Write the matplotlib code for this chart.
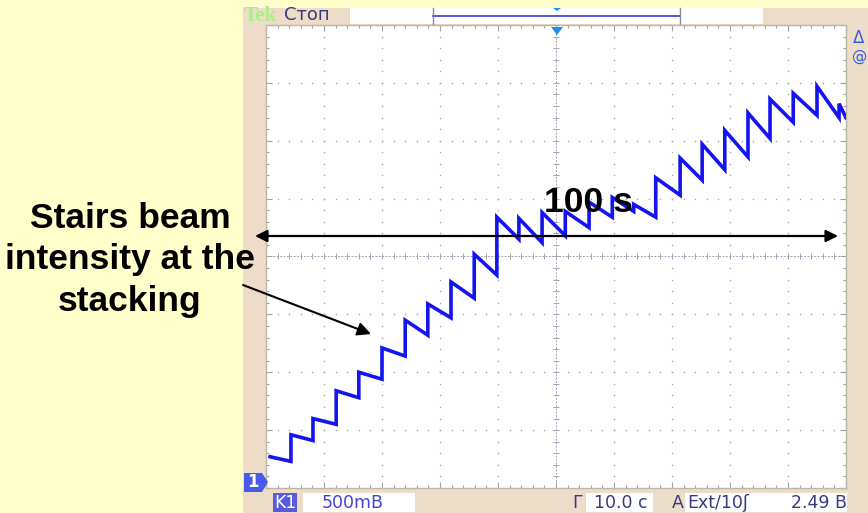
import matplotlib
matplotlib.use("Agg")
import matplotlib.pyplot as plt
from matplotlib.patches import Rectangle, Polygon, FancyArrowPatch
from matplotlib.lines import Line2D
import numpy as np

# ---- scope trace: injection instants (s) and beam signal (V) ----
inject_t = [0.7, 4.3, 8.1, 12.1, 16.0, 20.0, 24.0, 27.9, 31.9, 35.9,
            39.8, 43.6, 47.6, 51.6, 55.7, 59.7, 63.4, 67.2, 71.4, 75.2,
            79.1, 83.1, 86.9, 90.9, 95.0, 98.8]
end_t = 100.0
# signal right after each injection
level_top = [0.21, 0.40, 0.54, 0.78, 0.94, 1.15, 1.39, 1.53, 1.72, 1.96,
             2.28, 2.27, 2.32, 2.33, 2.41, 2.45, 2.39, 2.62, 2.79, 2.91,
             3.03, 3.18, 3.30, 3.35, 3.41, 3.26]
# signal just before the following injection
level_bottom = [0.17, 0.35, 0.49, 0.72, 0.88, 1.08, 1.26, 1.41, 1.58, 1.78,
                2.09, 2.06, 2.12, 2.19, 2.28, 2.33, 2.28, 2.47, 2.60, 2.69,
                2.80, 2.96, 3.10, 3.16, 3.14, 3.14]

# ---- scope settings shown on the readout ----
volts_per_div = 0.5
sec_per_div = 10.0
ground_div = -3.88          # channel-1 ground marker, divisions from centre
ch_label = "K1"
ch_scale = "500mB"
time_scale = "10.0 c"
trig_src = "Ext/10"
trig_level = "2.49 B"
run_state = "Стоп"

W, H = 868, 513
fig = plt.figure(figsize=(W / 100, H / 100), dpi=100, facecolor="#FFFFCC")


def fx(px):
    return px / W


def fy(py):
    return 1 - py / H


def fig_rect(x0, y0, x1, y1, **kw):
    r = Rectangle((fx(x0), fy(y1)), fx(x1) - fx(x0), fy(y0) - fy(y1),
                  transform=fig.transFigure, **kw)
    fig.add_artist(r)
    return r


beige = "#ECDCC8"
navy = "#3A3A80"

# scope window frame
fig_rect(243, 8, 868, 513, facecolor=beige, edgecolor="none", zorder=-5)
# header bar
fig_rect(350, 8, 763, 24, facecolor="white", edgecolor="none", zorder=-4)
fig.add_artist(Line2D([fx(433), fx(680)], [fy(15.5), fy(15.5)],
                      color="#5555DD", lw=1.4, zorder=-3))
for xb in (433, 680):
    fig.add_artist(Line2D([fx(xb), fx(xb)], [fy(8), fy(24)],
                          color="#8888A0", lw=1.0, zorder=-3))
fig.add_artist(Polygon([(fx(553), fy(8)), (fx(561), fy(8)), (fx(557), fy(11))],
                       closed=True, transform=fig.transFigure,
                       facecolor="#2090F0", edgecolor="none", zorder=-3))
fig.text(fx(244), fy(16), "Tek", color="#A8F080", fontsize=15,
         family="Liberation Serif", weight="bold", ha="left", va="center")
fig.text(fx(284), fy(15.5), run_state, color=navy, fontsize=13,
         family="DejaVu Sans", ha="left", va="center")

# right-hand readout glyphs (cut by the window edge)
fig.text(fx(853), fy(38), "Δ", color="#3060E0", fontsize=12, ha="left", va="center")
fig.text(fx(852), fy(56), "@", color="#3060E0", fontsize=11, ha="left", va="center")

# ---- graticule ----
ax = fig.add_axes([fx(266), fy(488), fx(846) - fx(266), fy(25) - fy(488)])
ax.set_facecolor("white")
y_lo = -(4 + ground_div) * volts_per_div
y_hi = (4 - ground_div) * volts_per_div
x_lo, x_hi = 0.0, 10 * sec_per_div
ax.set_xlim(x_lo, x_hi)
ax.set_ylim(y_lo, y_hi)
for s in ax.spines.values():
    s.set_color("#BDB5A5")
    s.set_linewidth(1.0)

major_x = np.arange(x_lo, x_hi + 1e-9, sec_per_div)
minor_x = np.arange(x_lo, x_hi + 1e-9, sec_per_div / 5)
major_y = y_lo + np.arange(0, 9) * volts_per_div
minor_y = y_lo + np.arange(0, 41) * volts_per_div / 5
ax.set_xticks(major_x)
ax.set_xticks(minor_x, minor=True)
ax.set_yticks(major_y)
ax.set_yticks(minor_y, minor=True)
ax.tick_params(which="both", direction="in", top=True, right=True,
               labelbottom=False, labelleft=False, color="#A0A0AE", width=0.8)
ax.tick_params(which="major", length=4)
ax.tick_params(which="minor", length=2.5)

dot_col = "#A4A4B4"
xc = (x_lo + x_hi) / 2
yc = (y_lo + y_hi) / 2
for gx in major_x[1:-1]:
    if abs(gx - xc) < 1e-9:
        continue
    ax.plot(np.full(minor_y.size, gx), minor_y, ls="none", marker="s",
            ms=1.0, mew=0, color=dot_col, zorder=1)
for gy in major_y[1:-1]:
    if abs(gy - yc) < 1e-9:
        continue
    ax.plot(minor_x, np.full(minor_x.size, gy), ls="none", marker="s",
            ms=1.0, mew=0, color=dot_col, zorder=1)
# centre cross with fine ticks
ax.axhline(yc, color=dot_col, lw=0.7, ls=(0, (2, 1.5)), zorder=1)
ax.axvline(xc, color=dot_col, lw=0.7, ls=(0, (2, 1.5)), zorder=1)
ax.plot(minor_x, np.full(minor_x.size, yc), ls="none", marker="|",
        ms=4, mew=0.7, color=dot_col, zorder=1)
ax.plot(np.full(minor_y.size, xc), minor_y, ls="none", marker="_",
        ms=4, mew=0.7, color=dot_col, zorder=1)

# ---- beam intensity trace ----
tx, ty = [], []
n = len(inject_t)
for i in range(n):
    t_next = inject_t[i + 1] if i + 1 < n else end_t
    tx += [inject_t[i], t_next]
    ty += [level_top[i], level_bottom[i]]
ax.plot(tx, ty, color="#1414F2", lw=2.6, solid_joinstyle="miter", zorder=3)

# trigger position marker
fig.add_artist(Polygon([(fx(551), fy(27)), (fx(563), fy(27)), (fx(557), fy(35))],
                       closed=True, transform=fig.transFigure,
                       facecolor="#2090F0", edgecolor="none", zorder=4))

# ---- bottom readout ----
fig.add_artist(Polygon([(fx(244), fy(473)), (fx(262), fy(473)), (fx(268), fy(482)),
                        (fx(262), fy(492)), (fx(244), fy(492))], closed=True,
                       transform=fig.transFigure, facecolor="#4A5AE8",
                       edgecolor="none", zorder=2))
fig.text(fx(253), fy(482), "1", color="white", fontsize=12, weight="bold",
         ha="center", va="center", zorder=3)
fs_ro = 12.5
fig_rect(273, 493, 297, 512, facecolor="#5A5AE0", edgecolor="none", zorder=-2)
fig.text(fx(285), fy(502.5), ch_label, color="white", fontsize=fs_ro,
         ha="center", va="center")
fig_rect(303, 493, 415, 512, facecolor="white", edgecolor="none", zorder=-2)
fig.text(fx(322), fy(502.5), ch_scale, color="#4444D0", fontsize=fs_ro,
         ha="left", va="center")
fig.text(fx(572), fy(502.5), "Г", color=navy, fontsize=fs_ro, ha="left", va="center")
fig_rect(586, 493, 653, 512, facecolor="white", edgecolor="none", zorder=-2)
fig.text(fx(594), fy(502.5), time_scale, color=navy, fontsize=fs_ro,
         ha="left", va="center")
fig.text(fx(672), fy(502.5), "A", color=navy, fontsize=fs_ro, ha="left", va="center")
fig_rect(685, 493, 847, 512, facecolor="white", edgecolor="none", zorder=-2)
fig.text(fx(687), fy(502.5), trig_src + "ʃ", color=navy, fontsize=fs_ro,
         ha="left", va="center")
fig.text(fx(847), fy(502.5), trig_level, color=navy, fontsize=fs_ro,
         ha="right", va="center")

# ---- annotations ----
fig.text(fx(130), fy(260), "Stairs beam\nintensity at the\nstacking",
         ha="center", va="center", fontsize=25.5, weight="bold",
         family="Liberation Sans", linespacing=1.32, zorder=6)
fig.text(fx(588), fy(203), "100 s", ha="center", va="center", fontsize=25.5,
         weight="bold", family="Liberation Sans", zorder=6)
fig.add_artist(FancyArrowPatch((fx(255), fy(236)), (fx(838), fy(236)),
                               transform=fig.transFigure, arrowstyle="<|-|>",
                               mutation_scale=18, color="black", lw=1.6,
                               shrinkA=0, shrinkB=0, zorder=6))
fig.add_artist(FancyArrowPatch((fx(243), fy(285)), (fx(371), fy(334)),
                               transform=fig.transFigure, arrowstyle="-|>",
                               mutation_scale=20, color="black", lw=1.5,
                               shrinkA=0, shrinkB=0, zorder=6))

fig.savefig("out.png", dpi=100, facecolor=fig.get_facecolor())
